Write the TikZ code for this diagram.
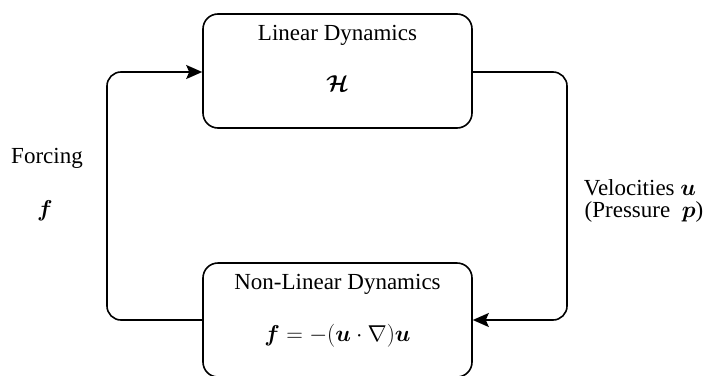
\RequirePackage{fix-cm}
\documentclass[tikz,border=0pt]{standalone}
\usepackage{amsmath,bm}
\usepackage{fontspec}
\setmainfont{Liberation Serif}
\usetikzlibrary{arrows.meta}
\begin{document}
\begin{tikzpicture}[x=1pt,y=-1pt,
  blockbox/.style={draw=black,line width=1.6pt,rounded corners=15pt,minimum width=269pt,minimum height=114pt,inner sep=0pt},
  lbl/.style={font=\fontsize{23}{27}\selectfont,inner sep=0pt},
  conn/.style={line width=1.6pt,rounded corners=14pt,-{Stealth[length=16pt,width=14pt,inset=3pt]}}]
\useasboundingbox (0,0) rectangle (704,375);
\fill[white] (0,0) rectangle (704,375);
\node[blockbox] (lin) at (337.5,71) {};
\node[blockbox] (nl) at (337.5,320) {};
\node[lbl] (lint) at (337.5,35) {Linear Dynamics};
\node[lbl] (linm) at (337.5,84) {$\bm{\mathcal{H}}$};
\node[lbl] (nlt) at (337.5,284) {Non-Linear Dynamics};
\node[lbl] (nlm) at (337.5,336) {$\bm{f} = -(\bm{u}\cdot\nabla)\bm{u}$};
\node[lbl] (ft) at (47,158) {Forcing};
\node[lbl] (fm) at (45,211) {$\bm{f}$};
\node[lbl] (vt) at (640,188) {Velocities $\bm{u}$};
\node[lbl] (pt) at (644,212) {(Pressure\ \ $\bm{p}$)};
\coordinate (lb) at (107,320);
\coordinate (lt) at (107,72);
\coordinate (rt) at (567,72);
\coordinate (rb) at (567,320);
\draw[conn] (nl.west) -- (lb) -- (lt) -- (lt -| lin.west);
\draw[conn] (rt -| lin.east) -- (rt) -- (rb) -- (nl.east);
\end{tikzpicture}
\end{document}
